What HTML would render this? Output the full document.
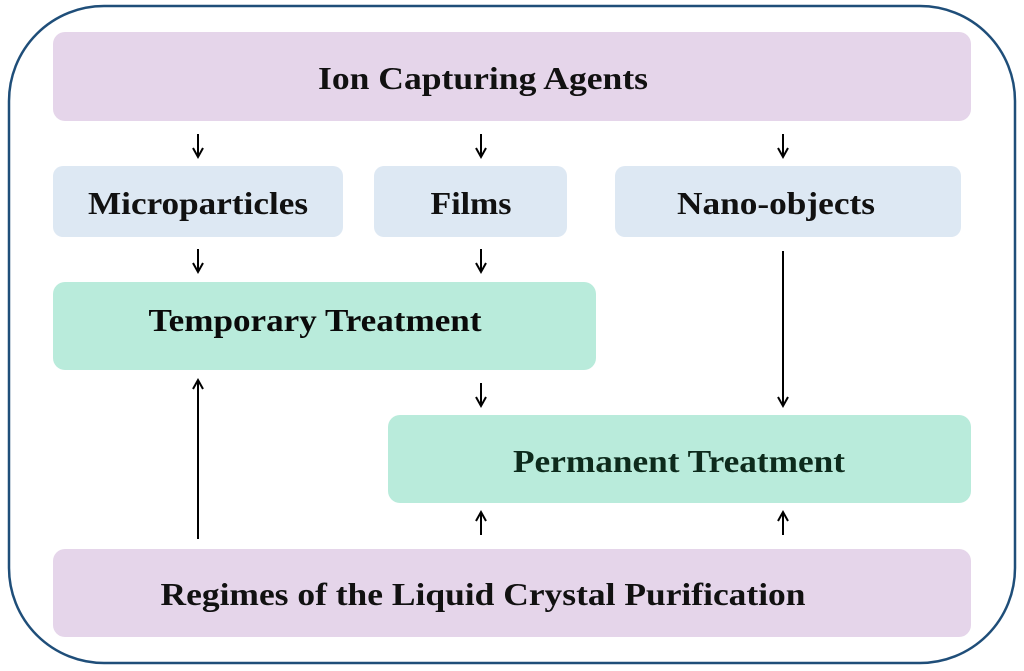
<!DOCTYPE html>
<html><head><meta charset="utf-8"><style>
html,body{margin:0;padding:0;background:#fff;}
svg{display:block;}
text{font-family:"Liberation Serif",serif;font-weight:bold;font-size:32px;}
</style></head><body>
<svg width="1024" height="671" viewBox="0 0 1024 671" xmlns="http://www.w3.org/2000/svg">
<rect x="9" y="6" width="1006" height="657" rx="95" ry="95" fill="#fff" stroke="#1f4e79" stroke-width="2.5"/>
<rect x="53" y="32" width="918" height="89" rx="12" fill="#e5d5ea"/>
<text x="483" y="89" text-anchor="middle" textLength="330" lengthAdjust="spacingAndGlyphs" fill="#111">Ion Capturing Agents</text>
<rect x="53" y="166" width="290" height="71" rx="10" fill="#dde8f3"/>
<text x="198" y="214" text-anchor="middle" textLength="220" lengthAdjust="spacingAndGlyphs" fill="#111">Microparticles</text>
<rect x="374" y="166" width="193" height="71" rx="10" fill="#dde8f3"/>
<text x="471" y="214" text-anchor="middle" textLength="81" lengthAdjust="spacingAndGlyphs" fill="#111">Films</text>
<rect x="615" y="166" width="346" height="71" rx="10" fill="#dde8f3"/>
<text x="776" y="214" text-anchor="middle" textLength="198" lengthAdjust="spacingAndGlyphs" fill="#111">Nano-objects</text>
<rect x="53" y="282" width="543" height="88" rx="12" fill="#b9ebdb"/>
<text x="315" y="331" text-anchor="middle" textLength="333" lengthAdjust="spacingAndGlyphs" fill="#0a0a0a">Temporary Treatment</text>
<rect x="388" y="415" width="583" height="88" rx="12" fill="#b9ebdb"/>
<text x="679" y="472" text-anchor="middle" textLength="332" lengthAdjust="spacingAndGlyphs" fill="#0d2a1c">Permanent Treatment</text>
<rect x="53" y="549" width="918" height="88" rx="12" fill="#e5d5ea"/>
<text x="483" y="605" text-anchor="middle" textLength="645" lengthAdjust="spacingAndGlyphs" fill="#111">Regimes of the Liquid Crystal Purification</text>
<g stroke="#000" stroke-width="2" fill="none">
<line x1="198" y1="134" x2="198" y2="156"/><path d="M193,148 L198,157 L203,148"/>
<line x1="481" y1="134" x2="481" y2="156"/><path d="M476,148 L481,157 L486,148"/>
<line x1="783" y1="134" x2="783" y2="156"/><path d="M778,148 L783,157 L788,148"/>
<line x1="198" y1="249" x2="198" y2="271"/><path d="M193,263 L198,272 L203,263"/>
<line x1="481" y1="249" x2="481" y2="271"/><path d="M476,263 L481,272 L486,263"/>
<line x1="783" y1="251" x2="783" y2="405"/><path d="M778,397 L783,406 L788,397"/>
<line x1="481" y1="383" x2="481" y2="405"/><path d="M476,397 L481,406 L486,397"/>
<line x1="481" y1="535" x2="481" y2="513"/><path d="M476,521 L481,512 L486,521"/>
<line x1="783" y1="535" x2="783" y2="513"/><path d="M778,521 L783,512 L788,521"/>
<line x1="198" y1="539" x2="198" y2="381"/><path d="M193,389 L198,380 L203,389"/>
</g>
</svg>
</body></html>
